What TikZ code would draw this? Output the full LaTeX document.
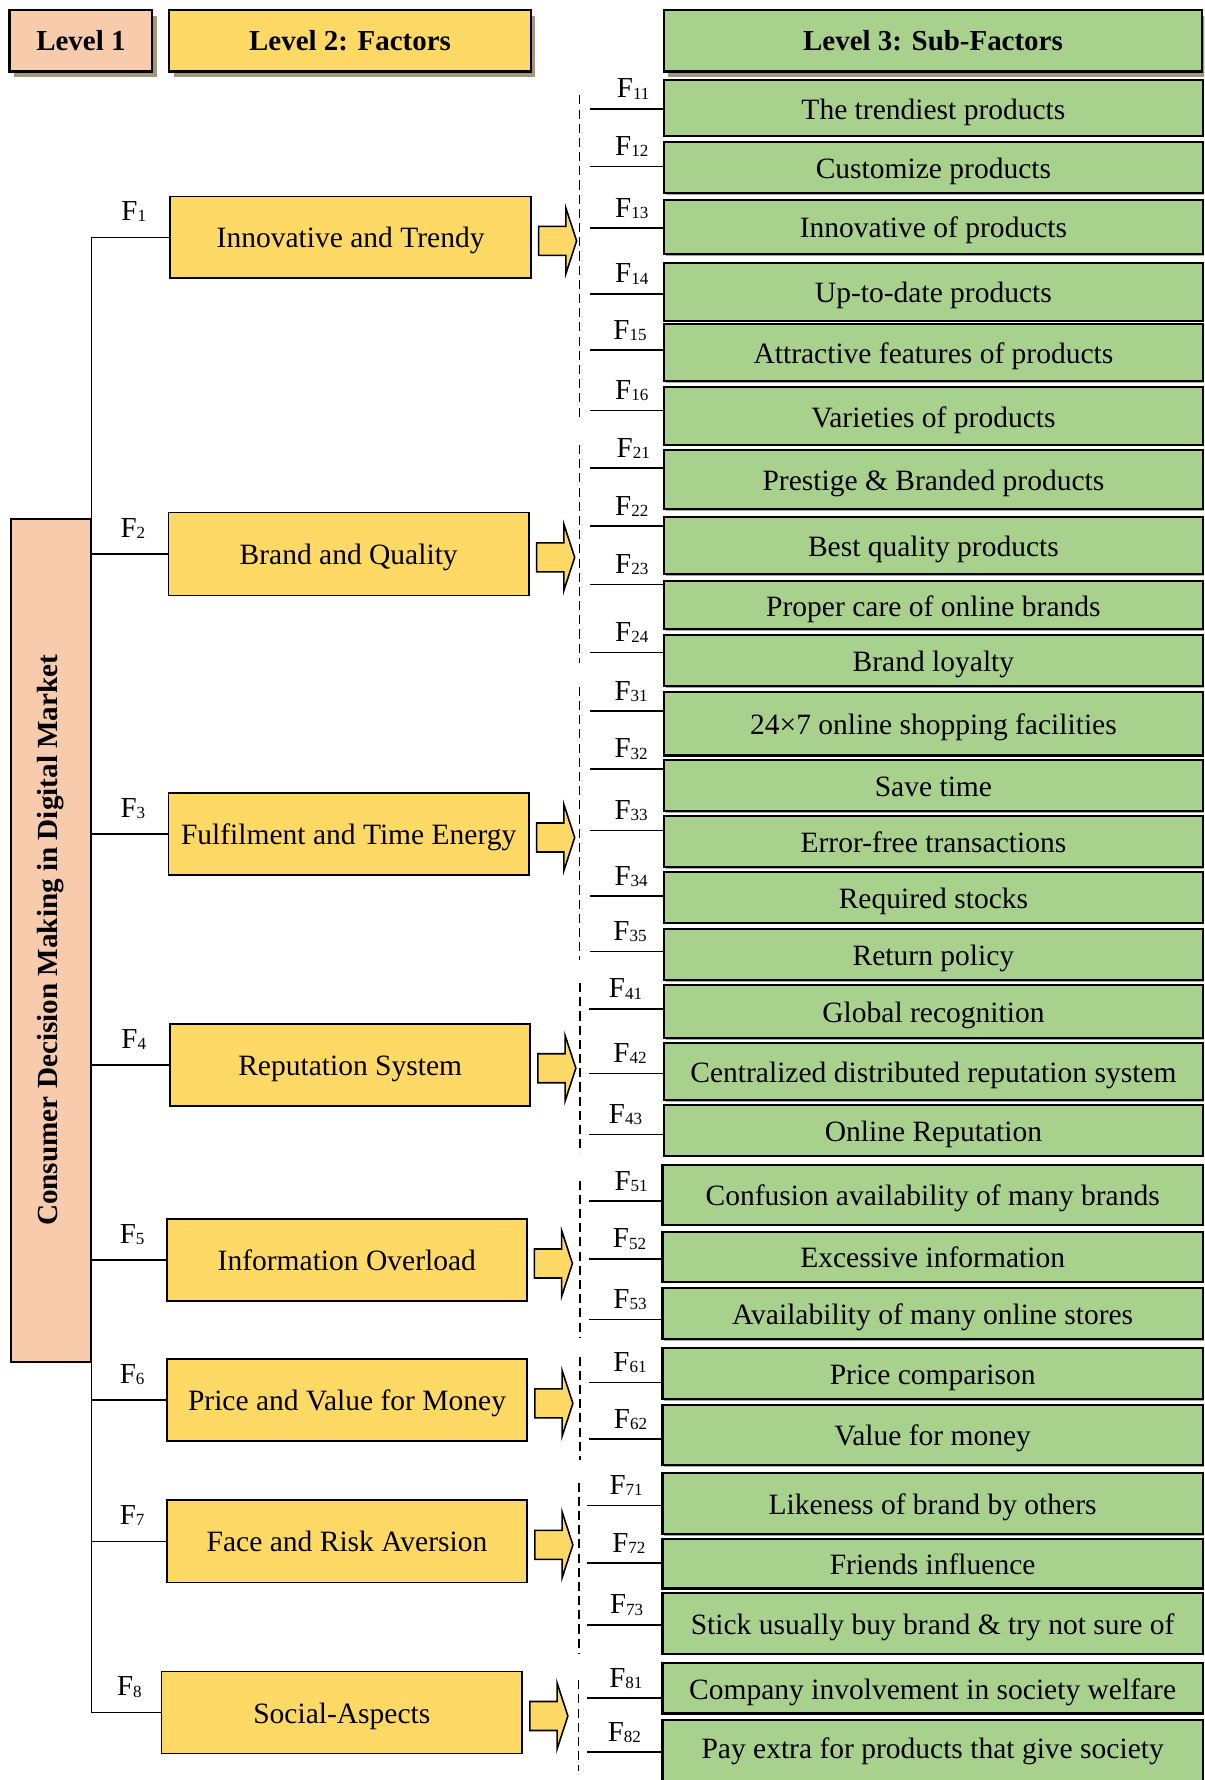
\documentclass[tikz,border=0pt]{standalone}
\usepackage{fontspec}
\setmainfont{Liberation Serif}
\usetikzlibrary{calc,shadows}
\definecolor{peach}{HTML}{F8CBAD}
\definecolor{yel}{HTML}{FFD966}
\definecolor{grn}{HTML}{A9D18E}
\definecolor{shadowc}{HTML}{A09880}
\newcommand\Fl[1]{F\raisebox{-1pt}{\fontsize{15}{15}\selectfont #1}}
% green sub-factor box: name, left x, top y, bottom y, text
\newcommand\gbx[5]{\node[gbox, minimum width={(1059.5-#2)*1pt}, minimum height={(#4-#3)*1pt}] (#1) at ({(#2+1059.5)/2},{(#3+#4)/2}) {#5};}
% yellow factor box: name, x1, x2, y1, y2, text
\newcommand\ybx[6]{\node[ybox, minimum width={(#3-#2)*1pt}, minimum height={(#5-#4)*1pt}] (#1) at ({(#2+#3)/2},{(#4+#5)/2}) {#6};}
% sub link: box name, line start x, line y, label x, digits
\newcommand\sublink[5]{\coordinate (#1c) at (#2,#3);
  \draw[conn] (#1c) -- (#1c -| #1.west);
  \node[slab] (#1l) at (#4,{#3-9.5}) {\Fl{#5}};}
% factor link: box name, label x, digit
\newcommand\faclink[3]{\draw[conn] (#1.west -| tall.east) -- (#1.west);
  \coordinate (#1k) at (#2,0);
  \node[slab, yshift=14.7pt] (#1l) at (#1k |- #1.west) {\Fl{#3}};
  \pic at ($(#1.east)+(6,3)$) {blk};}
\begin{document}
\begin{tikzpicture}[x=1pt,y=-1pt,
  every node/.style={font=\fontsize{26}{29}\selectfont},
  hdr/.style={draw, line width=2.2pt, inner sep=0pt,
    font=\fontsize{25.5}{28}\selectfont\bfseries, text height=16.8pt, text depth=0pt,
    drop shadow={shadow xshift=4pt, shadow yshift=-5pt, fill=shadowc, opacity=1}},
  gbox/.style={draw, line width=1.8pt, fill=grn, inner sep=0pt, text height=19.5pt, text depth=0pt,
    drop shadow={shadow xshift=1.5pt, shadow yshift=-1.5pt, fill=black!35, opacity=1}},
  ybox/.style={draw, line width=1.5pt, fill=yel, inner sep=0pt, text height=18.5pt, text depth=0pt},
  tallbox/.style={draw, line width=1.8pt, fill=peach, inner sep=0pt},
  conn/.style={line width=1.5pt},
  dsh/.style={line width=1.5pt, dash pattern=on 8pt off 4.5pt},
  slab/.style={anchor=base, inner sep=0pt, font=\fontsize{25.5}{28}\selectfont},
  barrow/.style={draw, line width=1.4pt, fill=yel, line join=miter},
  blk/.pic={\path[barrow] (0,-12.8) -- (24,-12.8) -- (24,-29) -- (33.5,0) -- (24,29) -- (24,12.8) -- (0,12.8) -- cycle;}
]
\useasboundingbox (0,0) rectangle (1061,1568);
\fill[white] (0,0) rectangle (1061,1568);
\clip (0,0) rectangle (1061,1568);

% headers
\node[hdr, fill=peach, minimum width=125.7pt, minimum height=54.3pt] (h1) at (71.25,35.95) {Level 1};
\node[hdr, fill=yel, minimum width=318.7pt, minimum height=54.3pt] (h2) at (308.35,35.95) {Level 2: Factors};
\node[hdr, fill=grn, minimum width=474.3pt, minimum height=54.3pt] (h3) at (821.85,35.95) {Level 3: Sub-Factors};

% dashed group lines
\draw[dsh] (510.5,84) -- (510.5,370);
\draw[dsh] (510.5,392) -- (510.5,584);
\draw[dsh] (510.5,605) -- (510.5,846);
\draw[dsh] (511,866) -- (511,1016);
\draw[dsh] (511,1040) -- (511,1179);
\draw[dsh] (511,1195) -- (511,1286);
\draw[dsh] (510,1306) -- (510,1457);
\draw[dsh] (509.5,1480) -- (509.5,1560);

% level 1 box
\node[tallbox, minimum width=70.4pt, minimum height=742.5pt] (tall) at (44.6,828.25) {};
\node[rotate=90, inner sep=0pt, font=\fontsize{25.7}{28}\selectfont\bfseries] (talltext) at (tall.center) {Consumer Decision Making in Digital Market};

% level 2 boxes
\ybx{y1}{150}{467.7}{173.2}{245.1}{Innovative and Trendy}
\ybx{y2}{148.3}{466}{451.4}{524.5}{Brand and Quality}
\ybx{y3}{148.3}{466}{698.5}{771}{Fulfilment and Time Energy}
\ybx{y4}{150}{467}{902}{974}{Reputation System}
\ybx{y5}{147}{464}{1074}{1146}{Information Overload}
\ybx{y6}{147}{464.4}{1197}{1269.4}{Price and Value for Money}
\ybx{y7}{147}{464.4}{1321.6}{1394.1}{Face and Risk Aversion}
\ybx{y8}{142.2}{460}{1472.5}{1544.7}{Social-Aspects}

% trunk
\draw[conn] (y1.west) -- (y1.west -| tall.east) -- (y8.west -| tall.east) -- (y8.west);
\faclink{y1}{117.85}{1}
\faclink{y2}{117}{2}
\faclink{y3}{117}{3}
\faclink{y4}{117.85}{4}
\faclink{y5}{116.35}{5}
\faclink{y6}{116.35}{6}
\faclink{y7}{116.35}{7}
\faclink{y8}{113.95}{8}

% level 3 boxes
\gbx{g11}{585}{70.7}{119.6}{The trendiest products}
\gbx{g12}{585}{125.1}{170.1}{Customize products}
\gbx{g13}{585}{175.9}{223.8}{Innovative of products}
\gbx{g14}{585}{231.3}{282.5}{Up-to-date products}
\gbx{g15}{585}{285.7}{335.6}{Attractive features of products}
\gbx{g16}{585}{341.1}{391.7}{Varieties of products}
\gbx{g21}{585}{396.5}{448.6}{Prestige \& Branded products}
\gbx{g22}{585}{455.1}{505.6}{Best quality products}
\gbx{g23}{585}{511.5}{554.5}{Proper care of online brands}
\gbx{g24}{585}{559.6}{604.2}{Brand loyalty}
\gbx{g31}{585}{609.5}{665.5}{24×7 online shopping facilities}
\gbx{g32}{585}{669.4}{714.4}{Save time}
\gbx{g33}{585}{719.2}{763.8}{Error-free transactions}
\gbx{g34}{585}{768.1}{812.7}{Required stocks}
\gbx{g35}{585}{818.6}{863.5}{Return policy}
\gbx{g41}{585}{867.5}{914.7}{Global recognition}
\gbx{g42}{585}{918.9}{969.1}{Centralized distributed reputation system}
\gbx{g43}{585}{973.3}{1018.0}{Online Reputation}
\gbx{g51}{583.6}{1026.4}{1078.8}{Confusion availability of many brands}
\gbx{g52}{583.6}{1085.3}{1128.9}{Excessive information}
\gbx{g53}{583.6}{1134.8}{1179.7}{Availability of many online stores}
\gbx{g61}{583.6}{1187.6}{1232.6}{Price comparison}
\gbx{g62}{583.6}{1237.4}{1290.5}{Value for money}
\gbx{g71}{583.6}{1297.7}{1351.4}{Likeness of brand by others}
\gbx{g72}{583.6}{1355.7}{1399.3}{Friends influence}
\gbx{g73}{583.6}{1403.5}{1456.6}{Stick usually buy brand \& try not sure of}
\gbx{g81}{583.6}{1464.5}{1509.4}{Company involvement in society welfare}
\node[gbox, text height=8.3pt, minimum width={(1059.5-583.6)*1pt}, minimum height=59.7pt] (g82) at ({(583.6+1059.5)/2},1545.15) {Pay extra for products that give society};

% sub links
\sublink{g11}{520}{95.8}{557.8}{11}
\sublink{g12}{520}{146.6}{556.5}{12}
\sublink{g13}{520}{201.0}{556.5}{13}
\sublink{g14}{520}{258.7}{556.5}{14}
\sublink{g15}{520}{308.2}{555}{15}
\sublink{g16}{520}{361.6}{556.5}{16}
\sublink{g21}{520}{412.1}{557.8}{21}
\sublink{g22}{520}{463.2}{556.5}{22}
\sublink{g23}{520}{515}{556.5}{23}
\sublink{g24}{520}{574.9}{556.5}{24}
\sublink{g31}{520}{626.4}{556}{31}
\sublink{g32}{520}{677.2}{556}{32}
\sublink{g33}{520}{731.6}{556}{33}
\sublink{g34}{520}{789.3}{556}{34}
\sublink{g35}{520}{838.2}{555}{35}
\sublink{g41}{518.6}{888.6}{551}{41}
\sublink{g42}{518.6}{945.6}{555}{42}
\sublink{g43}{518.6}{999.4}{551}{43}
\sublink{g51}{518.6}{1058.0}{556}{51}
\sublink{g52}{518.6}{1108.8}{554.5}{52}
\sublink{g53}{518.6}{1162.4}{555}{53}
\sublink{g61}{518.6}{1217.8}{555}{61}
\sublink{g62}{518.6}{1267.6}{555.4}{62}
\sublink{g71}{517.2}{1326.3}{551.6}{71}
\sublink{g72}{517.2}{1376.8}{554}{72}
\sublink{g73}{517.2}{1431.2}{552}{73}
\sublink{g81}{517.2}{1495.7}{551.3}{81}
\sublink{g82}{517.2}{1543.6}{550}{82}
\end{tikzpicture}
\end{document}
